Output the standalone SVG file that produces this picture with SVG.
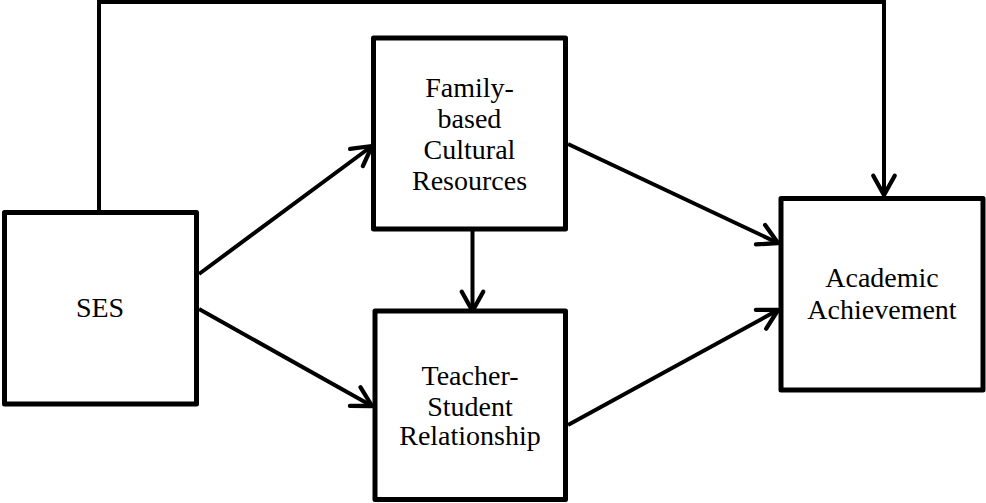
<svg xmlns="http://www.w3.org/2000/svg" width="986" height="503" viewBox="0 0 986 503">
  <style>
    .box { fill: #ffffff; stroke: #000000; stroke-width: 5; stroke-linejoin: round; }
    .lbl { font-family: "Liberation Serif", "Times New Roman", serif; font-size: 28px; fill: #000000; text-anchor: middle; }
    .conn { fill: none; stroke: #000000; stroke-width: 4; }
  </style>
  <defs>
    <marker id="arrow" markerUnits="userSpaceOnUse" markerWidth="30" markerHeight="30" viewBox="-22 -14 26 28" refX="0" refY="0" orient="auto" overflow="visible">
      <path d="M -18 -10 L 0 0 L -18 10" fill="none" stroke="#000000" stroke-width="4" stroke-linecap="round" stroke-linejoin="round"/>
    </marker>
  </defs>

  <g id="connectors">
    <path class="conn" d="M 99 212 V 2 H 884 V 195" marker-end="url(#arrow)"/>
    <line class="conn" x1="199" y1="274" x2="372" y2="146" marker-end="url(#arrow)"/>
    <line class="conn" x1="199" y1="309" x2="372" y2="406" marker-end="url(#arrow)"/>
    <line class="conn" x1="472.5" y1="231" x2="472.5" y2="311" marker-end="url(#arrow)"/>
    <line class="conn" x1="568" y1="144" x2="778" y2="243" marker-end="url(#arrow)"/>
    <line class="conn" x1="568" y1="425" x2="778" y2="310" marker-end="url(#arrow)"/>
  </g>

  <g id="node-ses">
    <rect class="box" x="4.5" y="212.5" width="192" height="191.5"/>
    <text class="lbl" x="100" y="317">SES</text>
  </g>

  <g id="node-family">
    <rect class="box" x="373.5" y="38" width="192" height="191"/>
    <text class="lbl" x="469.5" y="97">Family-</text>
    <text class="lbl" x="469.5" y="128">based</text>
    <text class="lbl" x="469.5" y="158.5">Cultural</text>
    <text class="lbl" x="469.5" y="189.5">Resources</text>
  </g>

  <g id="node-teacher">
    <rect class="box" x="375" y="311" width="190.5" height="188.5"/>
    <text class="lbl" x="470" y="385">Teacher-</text>
    <text class="lbl" x="470" y="415.5">Student</text>
    <text class="lbl" x="470" y="445">Relationship</text>
  </g>

  <g id="node-academic">
    <rect class="box" x="781" y="198.5" width="202" height="191.5"/>
    <text class="lbl" x="882" y="287">Academic</text>
    <text class="lbl" x="882" y="319">Achievement</text>
  </g>
</svg>
